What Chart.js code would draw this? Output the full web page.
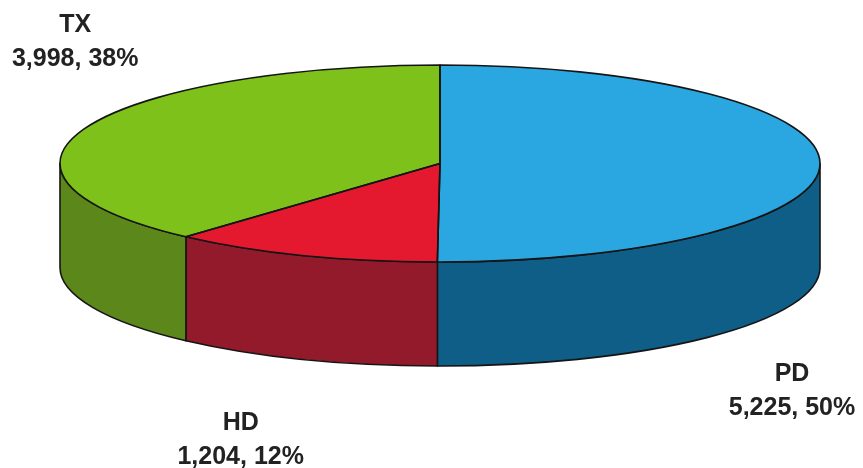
<!DOCTYPE html>
<html>
<head>
<meta charset="utf-8">
<title>Patients by modality</title>
<script src="https://cdn.jsdelivr.net/npm/chart.js@4.4.1/dist/chart.umd.min.js"></script>
<style>
  html, body { margin: 0; padding: 0; background: #ffffff; }
  #wrap { width: 863px; height: 468px; }
</style>
</head>
<body>
<div id="wrap"><canvas id="pie3d" width="863" height="468"></canvas></div>
<script>
// Data
const categories = ["PD", "HD", "TX"];
const counts = [5225, 1204, 3998];
const topColors = ["#2aa7e0", "#e4192f", "#7ec11a"];
const sideColors = ["#0e5e88", "#931a2b", "#5c871b"];

const total = counts.reduce((a, b) => a + b, 0);

// Pie tilted into an ellipse, with a front wall below it
const tiltedPie = {
    id: "tiltedPie",

    geometry(chart) {
        const o = chart.options.plugins.tiltedPie;
        return { cx: o.cx, cy: o.cy, rx: o.rx, ry: o.ry, depth: o.depth };
    },

    beforeDatasetsDraw(chart) {
        const ctx = chart.ctx;
        const g = this.geometry(chart);
        const meta = chart.getDatasetMeta(0);
        const o = chart.options.plugins.tiltedPie;

        // side walls, only the part facing the viewer (angles 0..PI)
        ctx.save();
        ctx.lineWidth = o.lineWidth;
        ctx.strokeStyle = o.lineColor;
        ctx.lineJoin = "round";
        meta.data.forEach((arc, i) => {
            const p = arc.getProps(["startAngle", "endAngle"], true);
            for (let k = -1; k <= 1; k++) {
                const lo = Math.max(p.startAngle, 2 * Math.PI * k);
                const hi = Math.min(p.endAngle, 2 * Math.PI * k + Math.PI);
                if (hi <= lo) continue;
                ctx.beginPath();
                ctx.ellipse(g.cx, g.cy, g.rx, g.ry, 0, lo, hi, false);
                ctx.lineTo(g.cx + g.rx * Math.cos(hi), g.cy + g.depth + g.ry * Math.sin(hi));
                ctx.ellipse(g.cx, g.cy + g.depth, g.rx, g.ry, 0, hi, lo, true);
                ctx.closePath();
                ctx.fillStyle = sideColors[i];
                ctx.fill();
                ctx.stroke();
            }
        });
        ctx.restore();

        // squash the round pie into the top ellipse
        const first = meta.data[0].getProps(["x", "y", "outerRadius"], true);
        ctx.save();
        ctx.translate(g.cx, g.cy);
        ctx.scale(g.rx / first.outerRadius, g.ry / first.outerRadius);
        ctx.translate(-first.x, -first.y);
    },

    afterDatasetsDraw(chart) {
        const ctx = chart.ctx;
        ctx.restore();

        const g = this.geometry(chart);
        const meta = chart.getDatasetMeta(0);
        const o = chart.options.plugins.tiltedPie;

        // slice outlines on the top face
        ctx.save();
        ctx.lineWidth = o.lineWidth;
        ctx.strokeStyle = o.lineColor;
        ctx.lineJoin = "round";
        meta.data.forEach((arc) => {
            const p = arc.getProps(["startAngle", "endAngle"], true);
            ctx.beginPath();
            ctx.moveTo(g.cx, g.cy);
            ctx.lineTo(g.cx + g.rx * Math.cos(p.startAngle), g.cy + g.ry * Math.sin(p.startAngle));
            ctx.ellipse(g.cx, g.cy, g.rx, g.ry, 0, p.startAngle, p.endAngle, false);
            ctx.closePath();
            ctx.stroke();
        });

        // category labels: name, then count and share
        ctx.fillStyle = o.labelColor;
        ctx.font = o.labelFont;
        ctx.textAlign = "center";
        ctx.textBaseline = "middle";
        meta.data.forEach((arc, i) => {
            const p = arc.getProps(["startAngle", "endAngle"], true);
            const mid = (p.startAngle + p.endAngle) / 2;
            const ax = g.cx + g.rx * Math.cos(mid);
            const ay = g.cy + g.ry * Math.sin(mid);
            const off = o.labelOffsets[i];
            const x = ax + off[0];
            const y = ay + off[1];
            const pct = Math.round(counts[i] / total * 100);
            ctx.fillText(categories[i], x, y - o.lineGap / 2);
            ctx.fillText(counts[i].toLocaleString("en-US") + ", " + pct + "%", x, y + o.lineGap / 2);
        });
        ctx.restore();
    }
};

new Chart(document.getElementById("pie3d"), {
    type: "pie",
    data: {
        labels: categories,
        datasets: [{
            data: counts,
            backgroundColor: topColors,
            borderWidth: 0
        }]
    },
    options: {
        responsive: false,
        animation: false,
        events: [],
        layout: { padding: 0 },
        plugins: {
            legend: { display: false },
            tooltip: { enabled: false },
            tiltedPie: {
                cx: 440,
                cy: 163.5,
                rx: 380,
                ry: 98.5,
                depth: 104,
                lineWidth: 1.6,
                lineColor: "#151515",
                labelColor: "#222222",
                labelFont: "bold 25px 'Liberation Sans', Arial, sans-serif",
                lineGap: 34,
                labelOffsets: [[-28, 227], [-62, 185], [-10, -86]]
            }
        }
    },
    plugins: [tiltedPie]
});
</script>
</body>
</html>
